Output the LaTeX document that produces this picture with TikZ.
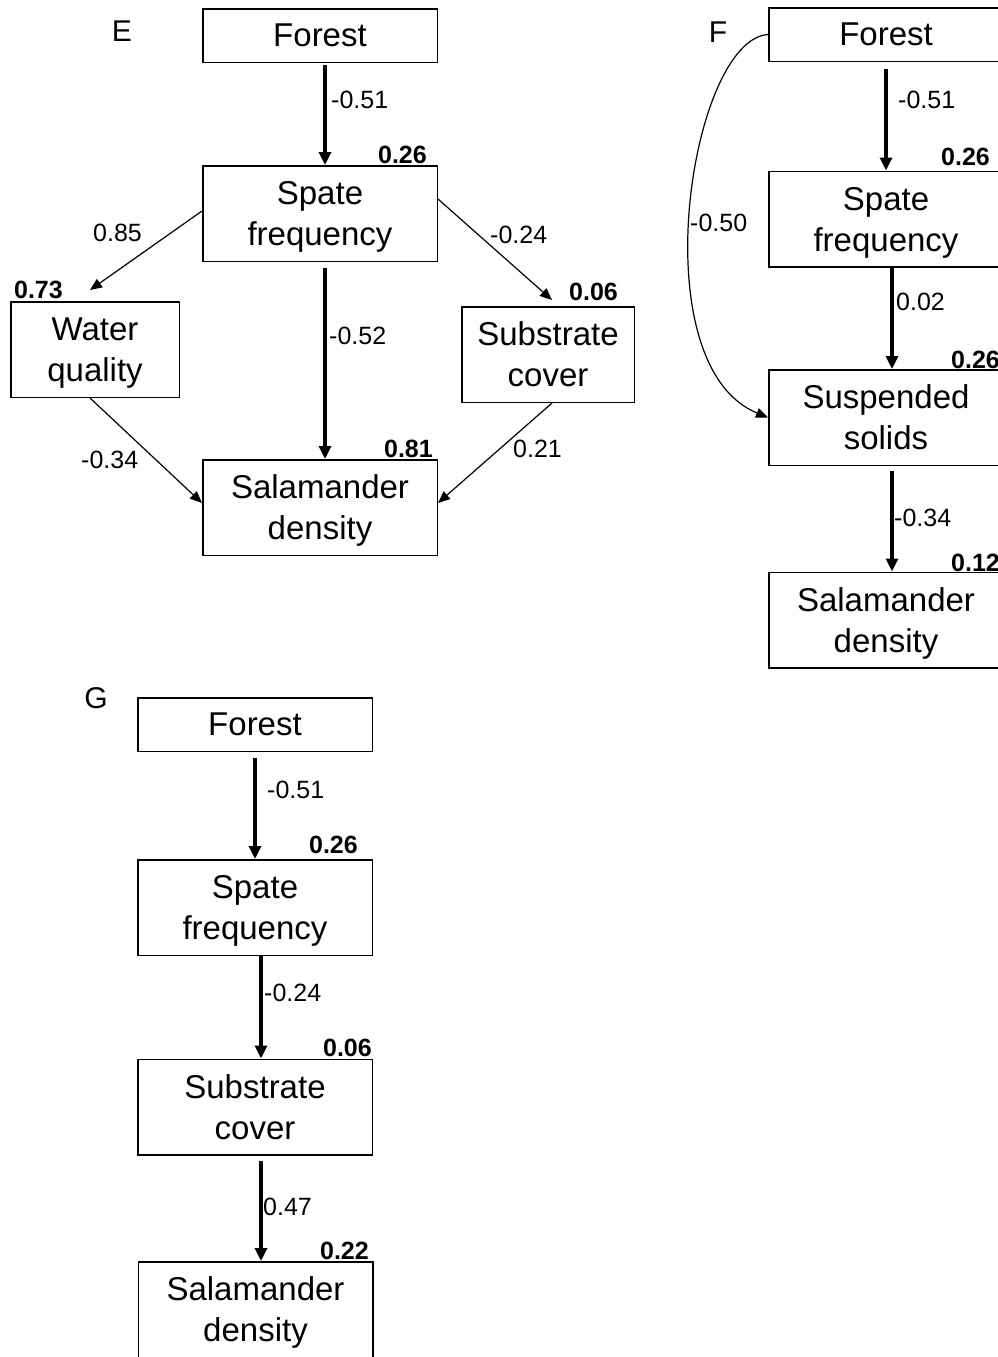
\documentclass[tikz,border=0pt]{standalone}
\usepackage{fontspec}
\setmainfont{Liberation Sans}
\usetikzlibrary{arrows.meta}
\newcommand{\lastln}[1]{\smash{#1}}
\begin{document}
\begin{tikzpicture}[x=1pt,y=1pt,
  box/.style={draw, line width=1.5pt, inner sep=0pt, align=center,
    minimum width=234.5pt, minimum height=95.5pt,
    font=\fontsize{33}{41}\selectfont},
  shortbox/.style={box, minimum height=53.5pt},
  coef/.style={inner sep=0pt, anchor=west, font=\fontsize{25}{28}\selectfont},
  rsq/.style={inner sep=0pt, anchor=east, font=\fontsize{25}{28}\selectfont\bfseries},
  rsqw/.style={rsq, anchor=west},
  panel/.style={inner sep=0pt, font=\fontsize{30}{34}\selectfont},
  thickarrow/.style={line width=3.2pt, -{Triangle[length=13pt,width=12pt]}},
  thinarrow/.style={line width=1.2pt, -{Triangle[length=12pt,width=10pt]}},
]
\useasboundingbox (0,0) rectangle (998,-1357);
\clip (0,0) rectangle (998,-1357);

% ---------- Panel E ----------
\node[panel] (lE) at (122,-31) {E};
\node[shortbox] (fE) at (320,-35.5) {Forest};
\node[box] (sE) at (320,-213.5) {Spate\\\lastln{frequency}};
\node[box, minimum width=168.5pt] (wE) at (95,-349.5) {Water\\\lastln{quality}};
\node[box, minimum width=172.5pt] (cE) at (548,-354.5) {Substrate\\\lastln{cover}};
\node[box] (dE) at (320,-507.5) {Salamander\\\lastln{density}};

\draw[thickarrow] ([xshift=5pt,yshift=-2pt]fE.south) -- ([xshift=5pt]sE.north);
\draw[thickarrow] ([xshift=5pt,yshift=-6pt]sE.south) -- ([xshift=5pt]dE.north);
\draw[thinarrow] ([yshift=2.5pt]sE.west) -- ([xshift=-5pt,yshift=11pt]wE.north);
\draw[thinarrow] ([yshift=14.5pt]sE.east) -- ([xshift=4pt,yshift=6pt]cE.north);
\draw[thinarrow] ([xshift=-5pt]wE.south) -- ([yshift=4.5pt]dE.west);
\draw[thinarrow] ([xshift=4pt]cE.south) -- ([yshift=4.5pt]dE.east);

\node[coef] (eA) at (331,-100) {-0.51};
\node[coef] (eB) at (93,-233) {0.85};
\node[coef] (eC) at (329,-336) {-0.52};
\node[coef] (eD) at (81,-460) {-0.34};
\node[coef] (eE) at (490,-235) {-0.24};
\node[coef] (eF) at (513,-449) {0.21};
\node[rsq] (rA) at (427,-155) {0.26};
\node[rsq] (rB) at (63,-290) {0.73};
\node[rsq] (rC) at (618,-292) {0.06};
\node[rsq] (rD) at (433,-449) {0.81};

% ---------- Panel F ----------
\node[panel] (lF) at (718,-32) {F};
\node[shortbox] (fF) at (886,-34.5) {Forest};
\node[box] (sF) at (886,-219) {Spate\\\lastln{frequency}};
\node[box] (uF) at (886,-417.5) {Suspended\\\lastln{solids}};
\node[box] (dF) at (886,-620) {Salamander\\\lastln{density}};

\draw[thickarrow] ([yshift=-7pt]fF.south) -- (sF.north);
\draw[thickarrow] ([xshift=6pt]sF.south) -- ([xshift=6pt]uF.north);
\draw[thickarrow] ([xshift=6pt,yshift=-5pt]uF.south) -- ([xshift=6pt]dF.north);
\draw[thinarrow] (fF.west) .. controls (690,-40) and (640,-365) .. (uF.west);

\node[coef] (fA) at (898,-100) {-0.51};
\node[coef] (fB) at (896,-302) {0.02};
\node[coef] (fC) at (894,-518) {-0.34};
\node[coef] (fD) at (690,-223) {-0.50};
\node[rsq] (fR1) at (990,-157) {0.26};
\node[rsqw] (fR2) at (951,-360) {0.26};
\node[rsqw] (fR3) at (951,-563) {0.12};

% ---------- Panel G ----------
\node[panel] (lG) at (96,-698) {G};
\node[shortbox] (fG) at (255,-724.5) {Forest};
\node[box] (sG) at (255,-907.5) {Spate\\\lastln{frequency}};
\node[box] (cG) at (255,-1107) {Substrate\\\lastln{cover}};
\node[box] (dG) at (255.5,-1309.5) {Salamander\\\lastln{density}};

\draw[thickarrow] ([yshift=-6pt]fG.south) -- (sG.north);
\draw[thickarrow] ([xshift=6pt]sG.south) -- ([xshift=6pt]cG.north);
\draw[thickarrow] ([xshift=6pt,yshift=-5pt]cG.south) -- ([xshift=5.5pt]dG.north);

\node[coef] (gA) at (267,-790) {-0.51};
\node[coef] (gB) at (264,-993) {-0.24};
\node[coef] (gC) at (263,-1207) {0.47};
\node[rsq] (gR1) at (358,-845) {0.26};
\node[rsq] (gR2) at (372,-1048) {0.06};
\node[rsq] (gR3) at (369,-1251) {0.22};
\end{tikzpicture}
\end{document}
